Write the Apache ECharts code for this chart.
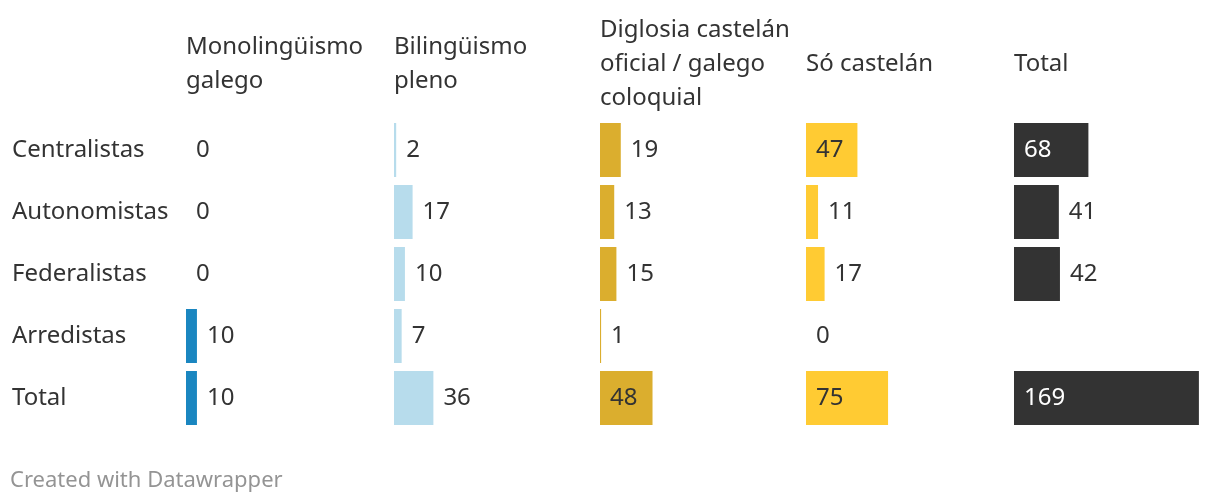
<!DOCTYPE html>
<html><head><meta charset="utf-8">
<script src="https://cdn.jsdelivr.net/npm/echarts@6/dist/echarts.min.js"></script>
<style>html,body{margin:0;padding:0;background:#fff}#c{width:1220px;height:504px}</style>
</head><body><div id="c"></div>
<script>
const rows = ['Centralistas', 'Autonomistas', 'Federalistas', 'Arredistas', 'Total'];
const headers = ['Monolingüismo\ngalego', 'Bilingüismo\npleno', 'Diglosia castelán\noficial / galego\ncoloquial', 'Só castelán', 'Total'];
const monolinguismo = [0, 0, 0, 10, 10];
const bilinguismo = [2, 17, 10, 7, 36];
const diglosia = [19, 13, 15, 1, 48];
const soCastelan = [47, 11, 17, 0, 75];
const total = [68, 41, 42, null, 169];
const footer = 'Created with Datawrapper';

const columns = [monolinguismo, bilinguismo, diglosia, soCastelan, total];
const colors = ['#1a86c0', '#b7dcec', '#dbae2e', '#ffcb33', '#333333'];
const insideText = ['#ffffff', '#333333', '#333333', '#333333', '#ffffff'];
const colLeft = [186, 394, 600, 806, 1014];
const FONT = '"Noto Sans", "Open Sans", sans-serif';
const FS = 24;
const TXT = '#333333';

const grids = [], xAxes = [], yAxes = [], series = [], graphics = [];
columns.forEach((vals, i) => {
  grids.push({left: colLeft[i], top: 119, width: 186, height: 310});
  xAxes.push({type: 'value', gridIndex: i, min: 0, max: 170, show: false});
  yAxes.push({
    type: 'category', gridIndex: i, data: rows, inverse: true,
    axisLine: {show: false}, axisTick: {show: false}, splitLine: {show: false},
    axisLabel: {show: i === 0, align: 'left', margin: 174, fontFamily: FONT, fontSize: FS, color: TXT}
  });
  series.push({
    type: 'bar', xAxisIndex: i, yAxisIndex: i, barWidth: 54, silent: true, animation: false,
    itemStyle: {color: colors[i]},
    data: vals.map(v => {
      if (v === null) return {value: '-', label: {show: false}};
      const inside = v >= 45;
      return {
        value: v,
        label: {
          show: true, position: inside ? 'insideLeft' : 'right', distance: 10,
          color: inside ? insideText[i] : TXT, fontFamily: FONT, fontSize: FS
        }
      };
    })
  });
  graphics.push({
    type: 'text', x: colLeft[i], y: 64,
    style: {text: headers[i], fontFamily: FONT, fontSize: FS, fill: TXT, lineHeight: 34, verticalAlign: 'middle', align: 'left'}
  });
});
graphics.push({
  type: 'text', x: 10, y: 481,
  style: {text: footer, fontFamily: FONT, fontSize: 22, fill: '#949494', verticalAlign: 'middle', align: 'left'}
});

const chart = echarts.init(document.getElementById('c'), null, {renderer: 'canvas'});
chart.setOption({
  animation: false,
  grid: grids, xAxis: xAxes, yAxis: yAxes, series: series, graphic: graphics
});
</script></body></html>
